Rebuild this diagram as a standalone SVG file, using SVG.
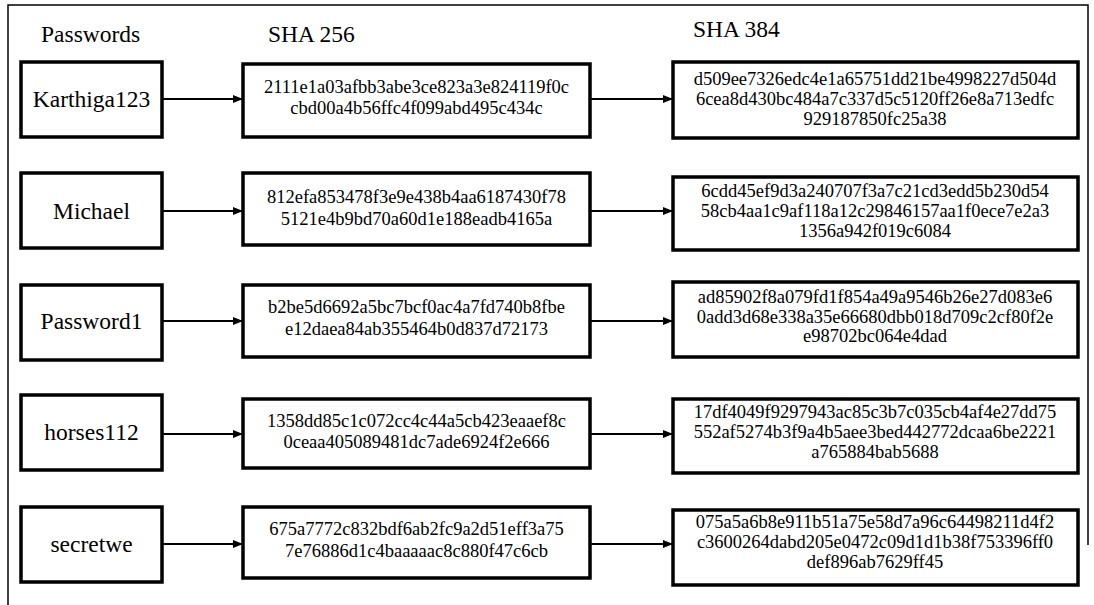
<svg xmlns="http://www.w3.org/2000/svg" width="1094" height="605" viewBox="0 0 1094 605">
  <style>
    .frame { fill: none; stroke: #000; stroke-width: 1.5; }
    .box { fill: #fff; stroke: #000; stroke-width: 3.5; }
    .head { font-family: "Liberation Serif", "Times New Roman", serif; font-size: 23.5px; fill: #000; }
    .pw { font-family: "Liberation Serif", "Times New Roman", serif; font-size: 23.5px; fill: #000; text-anchor: middle; }
    .hash { font-family: "Liberation Serif", "Times New Roman", serif; font-size: 18.5px; fill: #000; text-anchor: middle; }
    .edge { stroke: #000; stroke-width: 2; fill: none; marker-end: url(#arrow); }
  </style>
  <defs>
    <marker id="arrow" viewBox="0 0 10 8" refX="10" refY="4" markerWidth="10" markerHeight="8" markerUnits="userSpaceOnUse" orient="auto">
      <path d="M0,0 L10,4 L0,8 Z" fill="#000"/>
    </marker>
  </defs>
  <rect width="1094" height="605" fill="#fff"/>

  <!-- outer frame -->
  <path class="frame" d="M8,605 V5 H1088 V545"/>

  <!-- column headings -->
  <text class="head" x="41" y="42">Passwords</text>
  <text class="head" x="268" y="42">SHA 256</text>
  <text class="head" x="693" y="37">SHA 384</text>

  <!-- connectors -->
  <g id="connectors">
    <line class="edge" x1="162" y1="99" x2="243" y2="99"/>
    <line class="edge" x1="590" y1="99" x2="673" y2="99"/>
    <line class="edge" x1="162" y1="211" x2="243" y2="211"/>
    <line class="edge" x1="590" y1="211" x2="673" y2="211"/>
    <line class="edge" x1="162" y1="321" x2="243" y2="321"/>
    <line class="edge" x1="590" y1="321" x2="673" y2="321"/>
    <line class="edge" x1="162" y1="434" x2="243" y2="434"/>
    <line class="edge" x1="590" y1="434" x2="673" y2="434"/>
    <line class="edge" x1="162" y1="544" x2="243" y2="544"/>
    <line class="edge" x1="590" y1="544" x2="673" y2="544"/>
  </g>

  <!-- row 1 -->
  <g id="pw-karthiga123">
    <rect class="box" x="21" y="62" width="141" height="75"/>
    <text class="pw" x="91.5" y="107">Karthiga123</text>
  </g>
  <g id="sha256-karthiga123">
    <rect class="box" x="243" y="64" width="347" height="73"/>
    <text class="hash" x="416.5" y="93">2111e1a03afbb3abe3ce823a3e824119f0c</text>
    <text class="hash" x="416.5" y="114">cbd00a4b56ffc4f099abd495c434c</text>
  </g>
  <g id="sha384-karthiga123">
    <rect class="box" x="673" y="62" width="405" height="76"/>
    <text class="hash" x="875" y="85">d509ee7326edc4e1a65751dd21be4998227d504d</text>
    <text class="hash" x="875" y="105">6cea8d430bc484a7c337d5c5120ff26e8a713edfc</text>
    <text class="hash" x="875" y="125">929187850fc25a38</text>
  </g>

  <!-- row 2 -->
  <g id="pw-michael">
    <rect class="box" x="21" y="173" width="141" height="75"/>
    <text class="pw" x="91.5" y="218.5">Michael</text>
  </g>
  <g id="sha256-michael">
    <rect class="box" x="243" y="173" width="347" height="72"/>
    <text class="hash" x="416.5" y="203">812efa853478f3e9e438b4aa6187430f78</text>
    <text class="hash" x="416.5" y="225">5121e4b9bd70a60d1e188eadb4165a</text>
  </g>
  <g id="sha384-michael">
    <rect class="box" x="673" y="177" width="405" height="73"/>
    <text class="hash" x="875" y="197">6cdd45ef9d3a240707f3a7c21cd3edd5b230d54</text>
    <text class="hash" x="875" y="217">58cb4aa1c9af118a12c29846157aa1f0ece7e2a3</text>
    <text class="hash" x="875" y="237">1356a942f019c6084</text>
  </g>

  <!-- row 3 -->
  <g id="pw-password1">
    <rect class="box" x="21" y="285" width="141" height="75"/>
    <text class="pw" x="91.5" y="329">Password1</text>
  </g>
  <g id="sha256-password1">
    <rect class="box" x="243" y="285" width="347" height="72"/>
    <text class="hash" x="416.5" y="313">b2be5d6692a5bc7bcf0ac4a7fd740b8fbe</text>
    <text class="hash" x="416.5" y="335">e12daea84ab355464b0d837d72173</text>
  </g>
  <g id="sha384-password1">
    <rect class="box" x="673" y="282" width="405" height="75"/>
    <text class="hash" x="875" y="303">ad85902f8a079fd1f854a49a9546b26e27d083e6</text>
    <text class="hash" x="875" y="323">0add3d68e338a35e66680dbb018d709c2cf80f2e</text>
    <text class="hash" x="875" y="342">e98702bc064e4dad</text>
  </g>

  <!-- row 4 -->
  <g id="pw-horses112">
    <rect class="box" x="21" y="395" width="141" height="75"/>
    <text class="pw" x="91.5" y="440">horses112</text>
  </g>
  <g id="sha256-horses112">
    <rect class="box" x="243" y="399" width="347" height="69"/>
    <text class="hash" x="416.5" y="427">1358dd85c1c072cc4c44a5cb423eaaef8c</text>
    <text class="hash" x="416.5" y="448">0ceaa405089481dc7ade6924f2e666</text>
  </g>
  <g id="sha384-horses112">
    <rect class="box" x="673" y="399" width="405" height="74"/>
    <text class="hash" x="875" y="418">17df4049f9297943ac85c3b7c035cb4af4e27dd75</text>
    <text class="hash" x="875" y="438">552af5274b3f9a4b5aee3bed442772dcaa6be2221</text>
    <text class="hash" x="875" y="458">a765884bab5688</text>
  </g>

  <!-- row 5 -->
  <g id="pw-secretwe">
    <rect class="box" x="21" y="507" width="141" height="75"/>
    <text class="pw" x="91.5" y="552">secretwe</text>
  </g>
  <g id="sha256-secretwe">
    <rect class="box" x="243" y="507" width="347" height="71"/>
    <text class="hash" x="416.5" y="535">675a7772c832bdf6ab2fc9a2d51eff3a75</text>
    <text class="hash" x="416.5" y="557">7e76886d1c4baaaaac8c880f47c6cb</text>
  </g>
  <g id="sha384-secretwe">
    <rect class="box" x="673" y="510" width="405" height="75"/>
    <text class="hash" x="875" y="528">075a5a6b8e911b51a75e58d7a96c64498211d4f2</text>
    <text class="hash" x="875" y="548">c3600264dabd205e0472c09d1d1b38f753396ff0</text>
    <text class="hash" x="875" y="568">def896ab7629ff45</text>
  </g>
</svg>
